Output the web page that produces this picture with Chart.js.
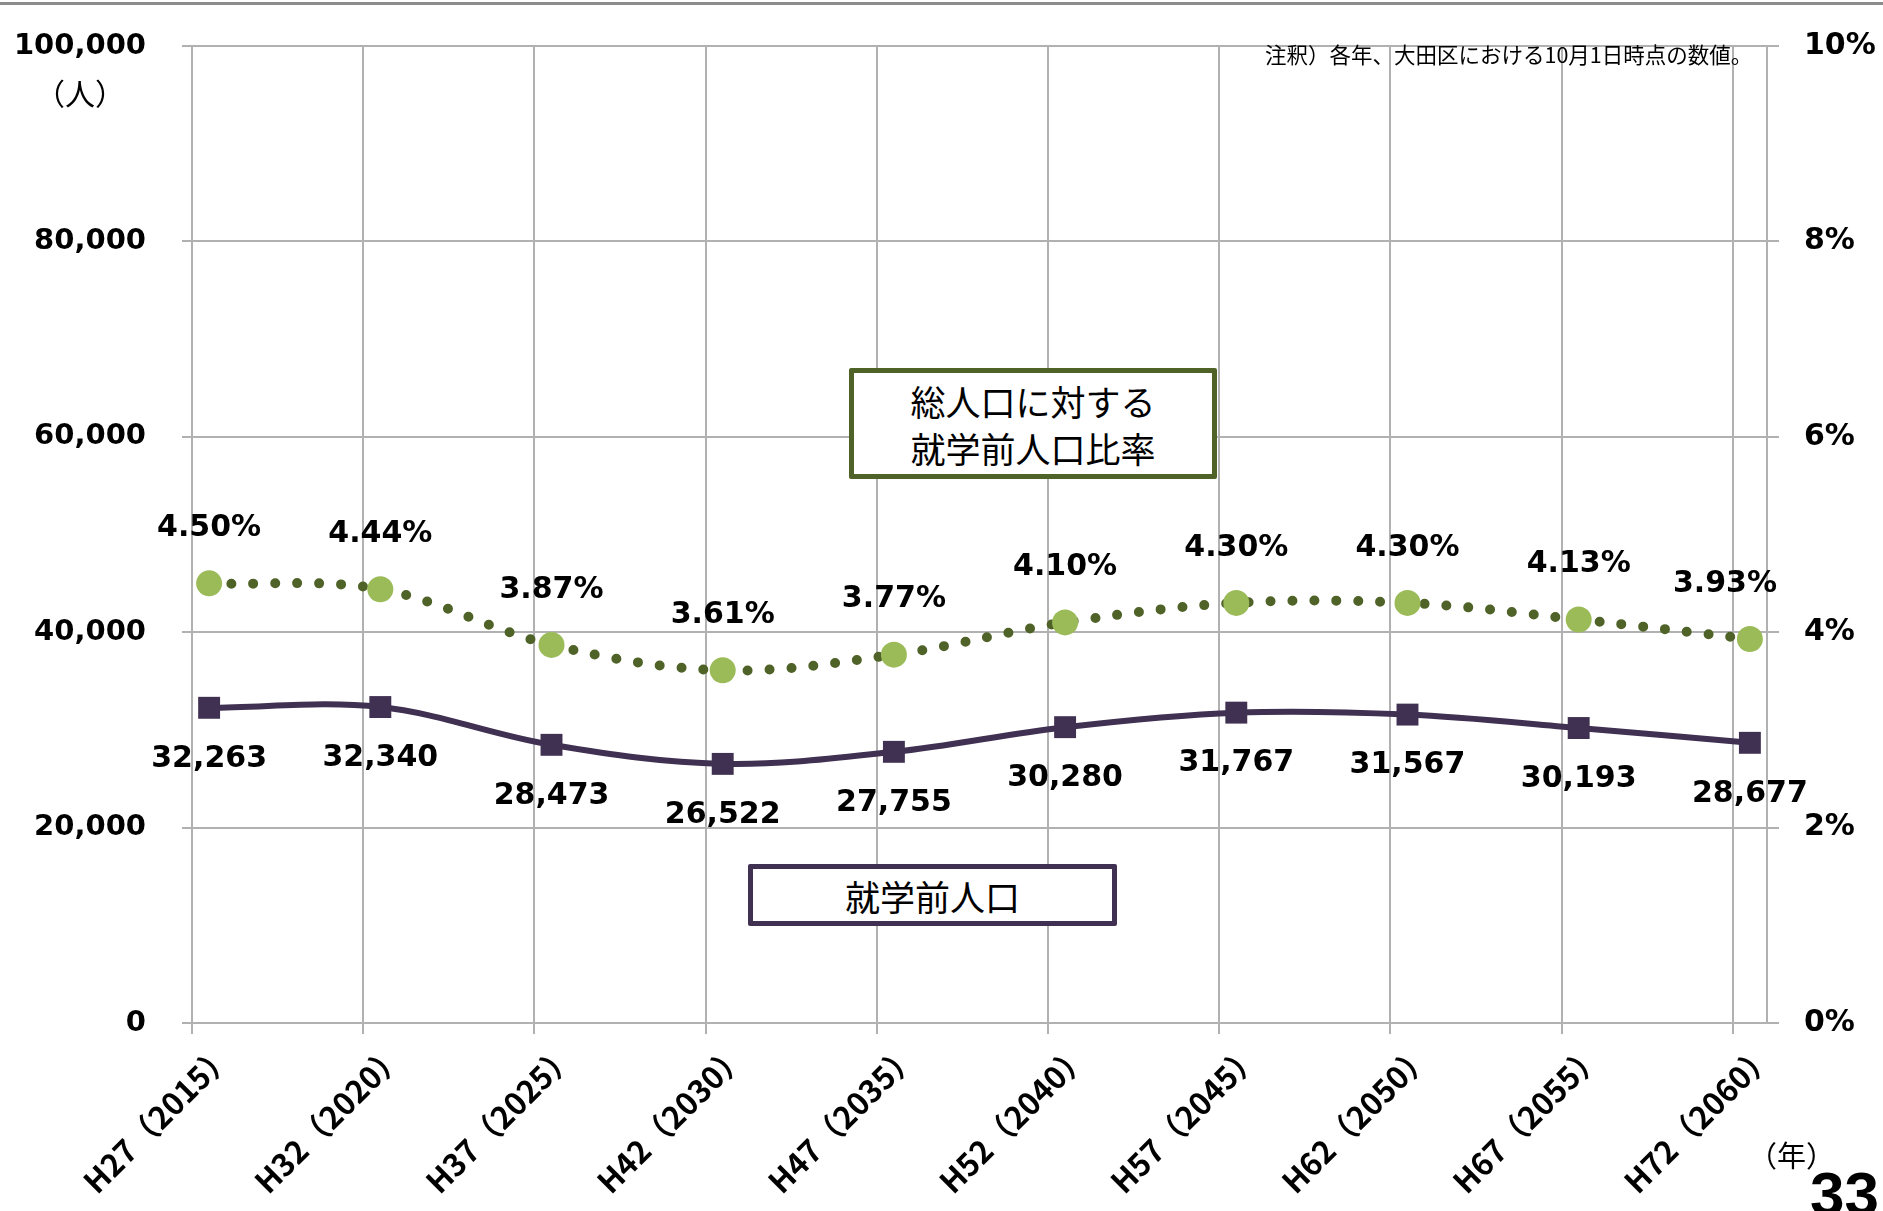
<!DOCTYPE html>
<html lang="ja">
<head>
<meta charset="utf-8">
<title>就学前人口の推計</title>
<script src="https://cdn.jsdelivr.net/npm/chart.js@4.4.1/dist/chart.umd.min.js"></script>
<style>
  html, body { margin: 0; padding: 0; background: #fff; }
  body { position: relative; width: 1883px; height: 1211px; overflow: hidden; }
  #chart { position: absolute; left: 0; top: 0; }
  .rule { position: absolute; left: 0; top: 2px; width: 1883px; height: 3px; background: #8c8c8c; }
  .txt { position: absolute; color: #000; white-space: nowrap; font-family: "Noto Sans CJK JP", sans-serif; }
  .note { left: 1265px; top: 40px; font-size: 21.5px; line-height: 28px; }
  .unitL { left: 35px; top: 74px; font-size: 30px; line-height: 36px; }
  .unitX { left: 1748px; top: 1136px; font-size: 29px; line-height: 36px; }
  .page { left: 1810px; top: 1163px; font: bold 62px "Liberation Sans", sans-serif; line-height: 62px; }
  .box { position: absolute; box-sizing: border-box; background: #fff; display: flex; align-items: center;
         justify-content: center; text-align: center; font-family: "Noto Sans CJK JP", sans-serif;
         font-size: 35px; color: #000; border-radius: 2px; }
  .boxRatio { left: 849px; top: 368px; width: 368px; height: 111px; border: 5px solid #4F6228; line-height: 47px; }
  .boxPop { left: 748px; top: 864px; width: 369px; height: 62px; border: 5px solid #403152; }
</style>
</head>
<body>
<canvas id="chart" width="1883" height="1211"></canvas>
<div class="rule"></div>
<div class="txt note">注釈）各年、大田区における10月1日時点の数値。</div>
<div class="txt unitL">（人）</div>
<div class="txt unitX">（年）</div>
<div class="txt page">33</div>
<div class="box boxRatio">総人口に対する<br>就学前人口比率</div>
<div class="box boxPop">就学前人口</div>
<script>
// categories (年)
var yearLabels = ['H27（2015）', 'H32（2020）', 'H37（2025）', 'H42（2030）', 'H47（2035）',
                  'H52（2040）', 'H57（2045）', 'H62（2050）', 'H67（2055）', 'H72（2060）'];
// 就学前人口 (人)
var popValues = [32263, 32340, 28473, 26522, 27755, 30280, 31767, 31567, 30193, 28677];
// 総人口に対する就学前人口比率 (%)
var ratioValues = [4.50, 4.44, 3.87, 3.61, 3.77, 4.10, 4.30, 4.30, 4.13, 3.93];
// axis ticks
var popTicks = [0, 20000, 40000, 60000, 80000, 100000];
var ratioTicks = [0, 2, 4, 6, 8, 10];

var GRID = '#b1b1b1';
var NUM_FONT = '"DejaVu Sans", Verdana, sans-serif';
var PT_SHIFT = 0.1; // points sit a little right of the grid lines, like the original

var valueLabels = {
    id: 'valueLabels',
    afterDatasetsDraw(chart) {
        var ctx = chart.ctx;
        var area = chart.chartArea;
        ctx.save();
        ctx.font = 'bold 30px ' + NUM_FONT;
        ctx.fillStyle = '#000';
        ctx.textAlign = 'center';
        ctx.textBaseline = 'middle';
        chart.getDatasetMeta(0).data.forEach((pt, i) => {
            ctx.fillText(popValues[i].toLocaleString('en-US'), pt.x, pt.y + 51);
        });
        chart.getDatasetMeta(1).data.forEach((pt, i) => {
            var text = ratioValues[i].toFixed(2) + '%';
            var w = ctx.measureText(text).width;
            var x = Math.min(pt.x, area.right + 10 - w / 2);
            ctx.fillText(text, x, pt.y - 55);
        });
        ctx.restore();
    }
};

// vertical axes: fixed width, and don't let tick padding push the plot top down
function fixWidth(w) {
    return (s) => { s.width = w; s.paddingTop = 0; s.paddingBottom = 0; };
}

var ctx = document.getElementById('chart').getContext('2d');
new Chart(ctx, {
    type: 'line',
    data: {
        datasets: [{
            label: '就学前人口',
            data: popValues.map((v, i) => ({ x: i + PT_SHIFT, y: v })),
            yAxisID: 'y',
            borderColor: '#403152',
            backgroundColor: '#403152',
            borderWidth: 6,
            tension: 0.35,
            pointStyle: 'rect',
            pointRadius: 15.5,
            pointHoverRadius: 15.5,
            pointBorderWidth: 0
        }, {
            label: '総人口に対する就学前人口比率',
            data: ratioValues.map((v, i) => ({ x: i + PT_SHIFT, y: v })),
            yAxisID: 'y1',
            borderColor: '#4F6228',
            backgroundColor: '#9BBB59',
            borderWidth: 10,
            borderDash: [0, 22],
            borderCapStyle: 'round',
            tension: 0.35,
            pointStyle: 'circle',
            pointRadius: 13,
            pointHoverRadius: 13,
            pointBorderWidth: 0
        }]
    },
    options: {
        responsive: false,
        animation: false,
        devicePixelRatio: 1,
        layout: { padding: { top: 46, left: 0, right: 0, bottom: 0 } },
        plugins: {
            legend: { display: false },
            tooltip: { enabled: false }
        },
        scales: {
            x: {
                type: 'linear',
                min: 0,
                max: 9.2,
                afterBuildTicks: (s) => { s.ticks = yearLabels.map((_, i) => ({ value: i })); },
                afterFit: (s) => { s.height = 188; },
                grid: { color: GRID, lineWidth: 2, tickLength: 11 },
                border: { color: GRID, width: 2 },
                ticks: {
                    autoSkip: false,
                    minRotation: 45,
                    maxRotation: 45,
                    labelOffset: 35,
                    padding: 2,
                    color: '#000',
                    font: { family: '"Noto Sans CJK JP", sans-serif', size: 31, weight: 'bold' },
                    callback: (v) => yearLabels[v]
                }
            },
            y: {
                position: 'left',
                min: 0,
                max: 100000,
                afterBuildTicks: (s) => { s.ticks = popTicks.map((v) => ({ value: v })); },
                afterFit: fixWidth(192),
                grid: { color: GRID, lineWidth: 2, tickLength: 10 },
                border: { color: GRID, width: 2 },
                ticks: {
                    padding: 36,
                    color: '#000',
                    font: { family: NUM_FONT, size: 29, weight: 'bold' },
                    callback: (v) => v.toLocaleString('en-US')
                }
            },
            y1: {
                position: 'right',
                min: 0,
                max: 10,
                afterBuildTicks: (s) => { s.ticks = ratioTicks.map((v) => ({ value: v })); },
                afterFit: fixWidth(116),
                grid: { drawOnChartArea: false, color: GRID, lineWidth: 2, tickLength: 12 },
                border: { color: GRID, width: 2 },
                ticks: {
                    padding: 25,
                    color: '#000',
                    font: { family: NUM_FONT, size: 30, weight: 'bold' },
                    callback: (v) => v + '%'
                }
            }
        }
    },
    plugins: [valueLabels]
});
</script>
</body>
</html>
